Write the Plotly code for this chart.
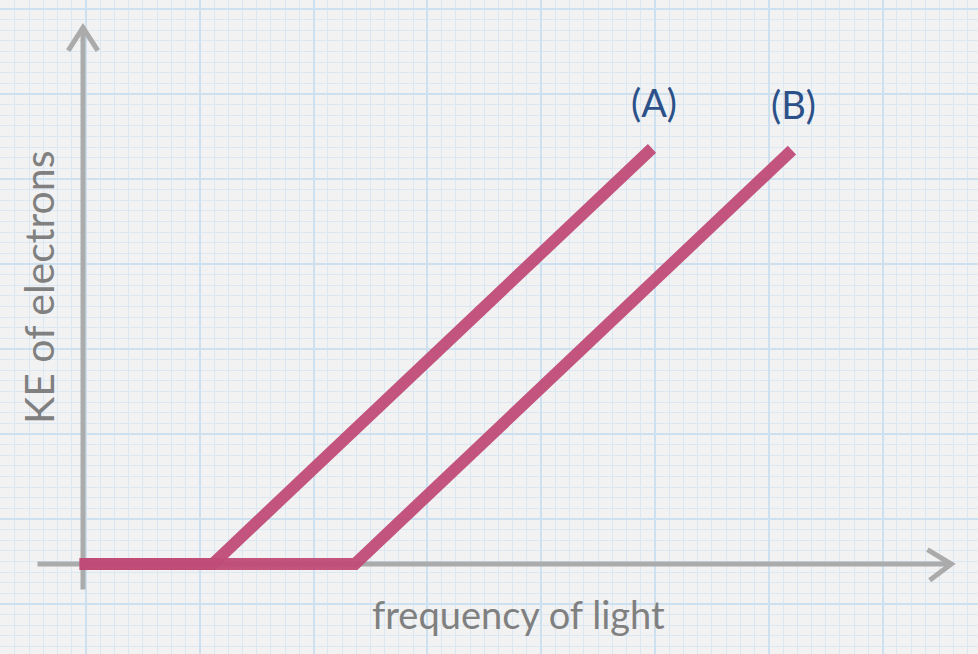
import plotly.graph_objects as go

# ---- data (arbitrary units: x = frequency of light, y = KE of electrons) ----
freq_A = [-0.03, 1.14, 5.00]
ke_A = [0.0, 0.0, 4.89]
freq_B = [-0.03, 2.39, 6.23]
ke_B = [0.0, 0.0, 4.87]
series_labels = ["(A)", "(B)"]
x_title = "frequency of light"
y_title = "KE of electrons"

# ---- layout helpers ----
W, H = 978, 654
X0_PX, Y0_PX = 83, 564          # pixel of origin
PX_PER_X, PX_PER_Y = 113.8, 85.0
x_range = [-X0_PX / PX_PER_X, (W - X0_PX) / PX_PER_X]
y_range = [-(H - Y0_PX) / PX_PER_Y, Y0_PX / PX_PER_Y]

PINK = "#c04c78"
AXIS_GRAY = "#ababab"
TEXT_GRAY = "#808080"
LABEL_BLUE = "#2c5189"
FONT = "Lato, 'Open Sans', sans-serif"

fig = go.Figure()

# axes (hand drawn look) with open chevron arrowheads
x_end, y_end = 7.63, 6.31
ax_kw = dict(mode="lines", line=dict(color=AXIS_GRAY, width=5), hoverinfo="skip", showlegend=False)
fig.add_trace(go.Scatter(x=[-0.40, x_end], y=[0, 0], **ax_kw))
fig.add_trace(go.Scatter(x=[0, 0], y=[-0.30, y_end], **ax_kw))
fig.add_trace(go.Scatter(x=[x_end - 0.21, x_end, x_end - 0.19], y=[0.17, 0, -0.19], **ax_kw))
fig.add_trace(go.Scatter(x=[-0.13, 0, 0.13], y=[y_end - 0.27, y_end, y_end - 0.27], **ax_kw))

# the two photoelectric lines
for xs, ys in [(freq_B, ke_B), (freq_A, ke_A)]:
    fig.add_trace(go.Scatter(x=xs, y=ys, mode="lines",
                             line=dict(color=PINK, width=12),
                             opacity=0.95, hoverinfo="skip", showlegend=False))

# series labels above line ends
for xs, ys, lab in [(freq_A, ke_A, series_labels[0]), (freq_B, ke_B, series_labels[1])]:
    fig.add_annotation(x=xs[-1], y=ys[-1], text=lab, showarrow=False,
                       xanchor="center", yanchor="middle",
                       xshift=2, yshift=46,
                       font=dict(family=FONT, size=38, color=LABEL_BLUE))

# axis titles
fig.add_annotation(x=518 / W, y=1 - 614 / H, xref="paper", yref="paper",
                   xanchor="center", yanchor="middle",
                   text=x_title, showarrow=False,
                   font=dict(family=FONT, size=38, color=TEXT_GRAY))
fig.add_annotation(x=38 / W, y=1 - 288 / H, xref="paper", yref="paper",
                   xanchor="center", yanchor="middle",
                   text=y_title, showarrow=False, textangle=-90,
                   font=dict(family=FONT, size=41, color=TEXT_GRAY))

grid_major = "#cde0ef"
grid_minor = "#dbe8f3"
fig.update_layout(
    width=W, height=H,
    margin=dict(l=0, r=0, t=0, b=0),
    paper_bgcolor="#f2f2f2", plot_bgcolor="#f2f2f2",
    xaxis=dict(range=x_range, showticklabels=False, ticks="", zeroline=False,
               showline=False, showgrid=True, gridcolor=grid_major, gridwidth=1.5,
               tick0=(86 - X0_PX) / PX_PER_X, dtick=1,
               minor=dict(showgrid=True, gridcolor=grid_minor, gridwidth=1,
                          tick0=(86 - X0_PX) / PX_PER_X, dtick=0.125)),
    yaxis=dict(range=y_range, showticklabels=False, ticks="", zeroline=False,
               showline=False, showgrid=True, gridcolor=grid_major, gridwidth=1.5,
               tick0=(Y0_PX - 519) / PX_PER_Y, dtick=1,
               minor=dict(showgrid=True, gridcolor=grid_minor, gridwidth=1,
                          tick0=(Y0_PX - 519) / PX_PER_Y, dtick=0.125)),
)

fig.write_html("out.html",
               config={"displayModeBar": False},
               post_script="document.body.style.margin='0';"
                           "document.body.style.background='#f2f2f2';")
